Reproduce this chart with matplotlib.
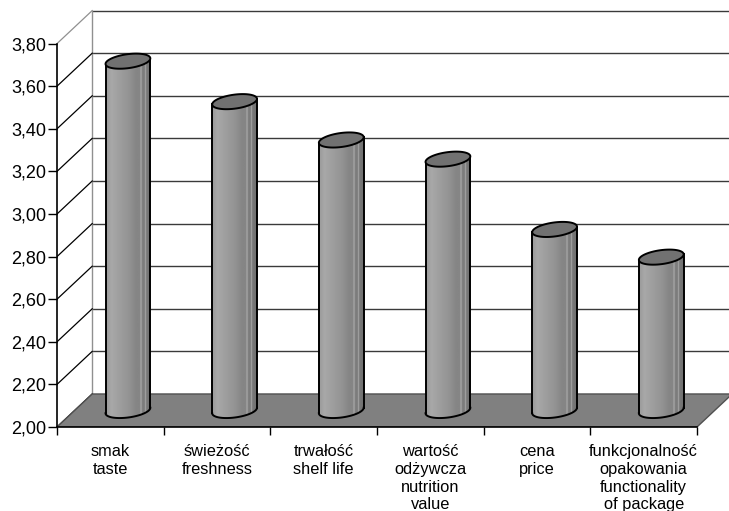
#Cylinder chart of mean ratings for product attributes, drawn as a fake 3D Excel-style chart
import numpy as np
import matplotlib.pyplot as plt
from matplotlib.patches import Polygon
from matplotlib.ticker import FuncFormatter

plt.rcParams['font.family'] = ['Liberation Sans', 'DejaVu Sans']

#Data
categories = ['smak\ntaste', 'świeżość\nfreshness', 'trwałość\nshelf life',
              'wartość\nodżywcza\nnutrition\nvalue', 'cena\nprice',
              'funkcjonalność\nopakowania\nfunctionality\nof package']
scores = [3.64, 3.45, 3.27, 3.18, 2.85, 2.72]
y_ticks = [2.0, 2.2, 2.4, 2.6, 2.8, 3.0, 3.2, 3.4, 3.6, 3.8]

#Depth offset of the back wall (in data units) and cylinder shape
DX, DY = 0.33, 0.155
half_w = 0.21
ell_h = 0.033
tilt = 0.013
x_max = 6.3
y_min, y_max = 2.0, 2.0 + 427 / 213.0

fig = plt.figure(figsize=(7.29, 5.11), dpi=100)
ax = fig.add_axes([57 / 729, 84 / 511, 672 / 729, 427 / 511])

#Back wall gridlines and its left edge
ax.hlines([v + DY for v in y_ticks[1:]], DX, x_max + 1, colors='#3a3a3a', lw=1.0, zorder=1)
ax.plot([DX, DX], [y_ticks[0] + DY, y_ticks[-1] + DY], color='#909090', lw=1, zorder=1)

#Left side wall: diagonals from each tick to the back wall
for v in y_ticks:
    col = '#909090' if v == y_ticks[-1] else 'black'
    ax.plot([0, DX], [v, v + DY], color=col, lw=0.9, zorder=1)

#Floor
floor = Polygon([(0, 2.0), (6, 2.0), (6 + DX, 2.0 + DY), (DX, 2.0 + DY)],
                closed=True, facecolor='#808080', edgecolor='#505050', lw=1, zorder=2)
ax.add_patch(floor)

#Shading across a cylinder body
knots_x = [0.0, 0.12, 0.3, 0.5, 0.68, 0.76, 0.78, 0.80, 0.86, 0.88, 0.90, 1.0]
knots_v = [0.60, 0.66, 0.62, 0.58, 0.52, 0.52, 0.72, 0.50, 0.48, 0.70, 0.47, 0.44]
shade = np.interp(np.linspace(0, 1, 200), knots_x, knots_v)


def ellipse_pts(cx, cy, t):
    return np.column_stack([cx + half_w * np.cos(t),
                            cy + ell_h * np.sin(t) + tilt * np.cos(t)])


base_y = 2.0 + DY / 2
for i, val in enumerate(scores):
    cx = i + 0.5 + DX / 2
    top_y = val + DY / 2
    bottom_arc = ellipse_pts(cx, base_y, np.linspace(np.pi, 2 * np.pi, 60))
    body_pts = np.vstack([bottom_arc,
                          [cx + half_w, top_y + tilt],
                          [cx - half_w, top_y - tilt]])
    body = Polygon(body_pts, closed=True, facecolor='none', edgecolor='none', zorder=3)
    ax.add_patch(body)
    img = ax.imshow(shade[np.newaxis, :], cmap='gray', vmin=0, vmax=1,
                    extent=[cx - half_w, cx + half_w, base_y - 0.06, top_y + 0.06],
                    aspect='auto', interpolation='bilinear', zorder=3)
    img.set_clip_path(body)
    #Outline of the body
    ax.plot(bottom_arc[:, 0], bottom_arc[:, 1], color='black', lw=1.4, zorder=4)
    ax.plot([cx - half_w, cx - half_w], [base_y - tilt, top_y - tilt], color='black', lw=1.4, zorder=4)
    ax.plot([cx + half_w, cx + half_w], [base_y + tilt, top_y + tilt], color='black', lw=1.4, zorder=4)
    #Top cap
    cap = Polygon(ellipse_pts(cx, top_y, np.linspace(0, 2 * np.pi, 80)), closed=True,
                  facecolor='#717171', edgecolor='black', lw=1.4, zorder=5)
    ax.add_patch(cap)

ax.set_xlim(0, x_max)
ax.set_ylim(y_min, y_max)

#Axes styling
for side in ['top', 'right']:
    ax.spines[side].set_visible(False)
ax.spines['left'].set_bounds(2.0, 3.8)
ax.spines['bottom'].set_bounds(0, 6)
ax.spines['left'].set_linewidth(1.2)
ax.spines['bottom'].set_linewidth(1.2)
ax.patch.set_visible(False)

ax.set_yticks(y_ticks)
ax.yaxis.set_major_formatter(FuncFormatter(lambda v, pos: f'{v:.2f}'.replace('.', ',')))
ax.tick_params(axis='y', direction='out', length=6.5, width=1, pad=1, labelsize=13)

ax.set_xticks(range(7))
ax.set_xticklabels([])
ax.set_xticks([i + 0.5 for i in range(6)], minor=True)
ax.set_xticklabels(categories, minor=True)
ax.tick_params(axis='x', which='major', direction='out', length=5.8, width=1)
ax.tick_params(axis='x', which='minor', length=0, pad=12.5, labelsize=11.8)
for lbl in ax.get_xticklabels(minor=True):
    lbl.set_multialignment('center')
    lbl.set_linespacing(1.22)

plt.savefig('out.png', dpi=100)
